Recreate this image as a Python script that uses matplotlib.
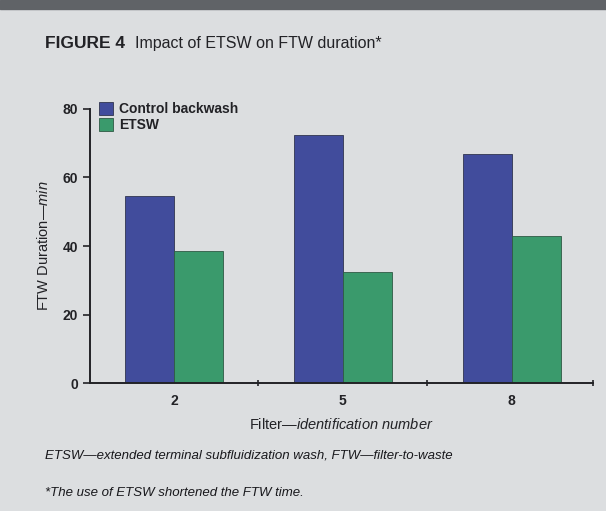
import numpy as np
import matplotlib.pyplot as plt
from matplotlib.patches import Rectangle

filters = ['2', '5', '8']
control = [54.5, 72.3, 66.8]
etsw = [38.6, 32.4, 42.9]
yticks = [0, 20, 40, 60, 80]

plt.rcParams['font.family'] = ['Liberation Sans', 'DejaVu Sans']
plt.rcParams['mathtext.fontset'] = 'custom'
plt.rcParams['mathtext.rm'] = 'Liberation Sans'
plt.rcParams['mathtext.it'] = 'Liberation Sans:italic'
plt.rcParams['mathtext.bf'] = 'Liberation Sans:bold'

bg = '#dcdee0'
ink = '#222226'
blue = '#414c9c'
green = '#3a9a6c'

fig = plt.figure(figsize=(6.06, 5.11), dpi=100, facecolor=bg)
# dark page edge at the top of the photo
fig.patches.append(Rectangle((0, 0.982), 1, 0.018, transform=fig.transFigure,
                             color='#606367', zorder=0))

ax = fig.add_axes([0.148, 0.25, 0.83, 0.537])
ax.set_facecolor(bg)

x = np.arange(len(filters))
w = 0.29
ax.bar(x - w/2, control, w, color=blue, edgecolor='#303550', linewidth=0.6,
       label='Control backwash')
ax.bar(x + w/2, etsw, w, color=green, edgecolor='#2f5a45', linewidth=0.6,
       label='ETSW')

ax.set_xlim(-0.5, 2.48)
ax.set_ylim(0, 80)
ax.set_yticks(yticks)
ax.set_xticks([0.5, 1.5, 2.48])
ax.set_xticklabels([])
ax.set_xticks(x, minor=True)
ax.set_xticklabels(filters, minor=True, fontsize=10, fontweight='bold', color=ink)
ax.tick_params(axis='x', which='minor', length=0, pad=8)
ax.tick_params(axis='x', which='major', length=5, direction='inout', width=1.2, color=ink)
ax.tick_params(axis='y', length=5, width=1.2, color=ink, labelsize=10, labelcolor=ink)
for lab in ax.get_yticklabels():
    lab.set_fontweight('bold')

for s in ['top', 'right']:
    ax.spines[s].set_visible(False)
for s in ['left', 'bottom']:
    ax.spines[s].set_linewidth(1.4)
    ax.spines[s].set_color(ink)

ax.set_ylabel(r'FTW Duration—$\it{min}$', fontsize=10.5, color=ink, labelpad=8)
ax.set_xlabel(r'Filter—$\it{identification\ number}$', fontsize=10.5, color=ink, labelpad=6)

leg = ax.legend(loc='upper left', bbox_to_anchor=(0.0, 1.06), frameon=False,
                fontsize=10, handlelength=1.0, handleheight=1.0,
                handletextpad=0.4, labelspacing=0.15, borderaxespad=0.3)
for t in leg.get_texts():
    t.set_fontweight('bold')
    t.set_color(ink)

fig.text(0.074, 0.915, 'FIGURE 4', fontsize=12.5, fontweight='bold',
         color=ink, ha='left', va='center')
fig.text(0.222, 0.915, 'Impact of ETSW on FTW duration*',
         fontsize=11.5, color=ink, ha='left', va='center')
fig.text(0.074, 0.108, 'ETSW—extended terminal subfluidization wash, FTW—filter-to-waste',
         fontsize=9.5, style='italic', color='#18181c', ha='left', va='center')
fig.text(0.074, 0.036, '*The use of ETSW shortened the FTW time.',
         fontsize=9.5, style='italic', color='#18181c', ha='left', va='center')

fig.savefig('out.png', dpi=100, facecolor=bg)
